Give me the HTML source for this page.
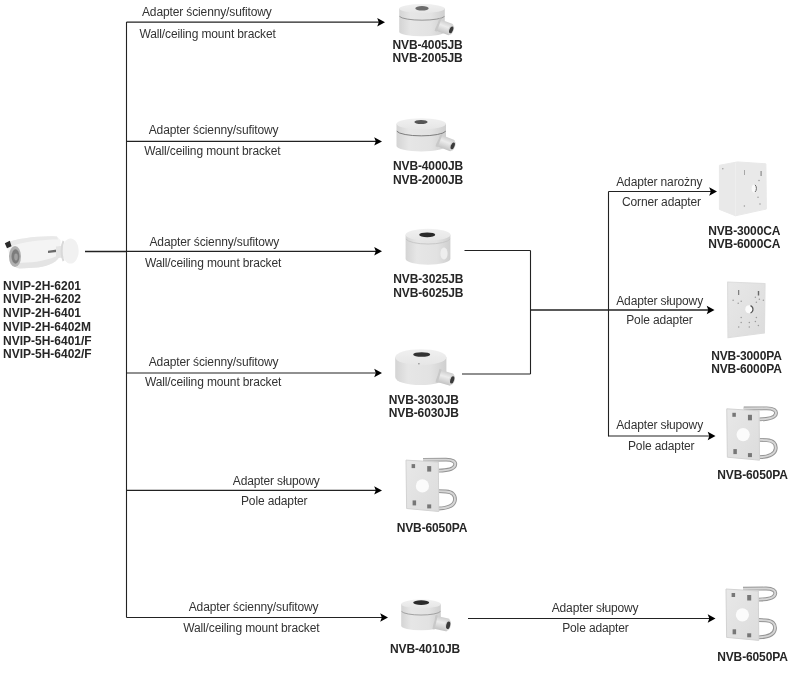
<!DOCTYPE html>
<html><head><meta charset="utf-8"><style>
html,body{margin:0;padding:0;background:#fff;width:800px;height:674px;overflow:hidden;position:relative}
#wrap{position:absolute;left:0;top:0;width:800px;height:674px;filter:blur(0.45px)}
.t{position:absolute;font-family:"Liberation Sans",sans-serif;font-size:12px;line-height:14px;white-space:nowrap}
.r{color:#333;letter-spacing:-0.13px}
.b{color:#262626;font-weight:bold;letter-spacing:-0.13px}
.n{letter-spacing:0}
svg{position:absolute;left:0;top:0}
</style></head><body><div id="wrap">
<svg width="800" height="674" viewBox="0 0 800 674"><defs>
<linearGradient id="side" x1="0" x2="1" y1="0" y2="0">
 <stop offset="0" stop-color="#d4d4d4"/><stop offset="0.25" stop-color="#e6e6e6"/>
 <stop offset="0.7" stop-color="#e2e2e2"/><stop offset="1" stop-color="#cfcfcf"/></linearGradient>
<linearGradient id="topg" x1="0" x2="0" y1="0" y2="1">
 <stop offset="0" stop-color="#f0f0f0"/><stop offset="1" stop-color="#e6e6e6"/></linearGradient>
<linearGradient id="gl" x1="0" x2="0" y1="0" y2="1">
 <stop offset="0" stop-color="#cfcfcf"/><stop offset="0.4" stop-color="#ececec"/><stop offset="1" stop-color="#c4c4c4"/></linearGradient>
<linearGradient id="plate" x1="0" x2="1" y1="0" y2="1">
 <stop offset="0" stop-color="#e8e8e8"/><stop offset="1" stop-color="#dcdcdc"/></linearGradient>
</defs>
<line x1="126.5" y1="22" x2="126.5" y2="617.5" stroke="#222222" stroke-width="1.1"/><line x1="126.5" y1="22.2" x2="382" y2="22.2" stroke="#222222" stroke-width="1.2"/><path d="M385,22.2 L377.2,18.0 L378.8,22.2 L377.2,26.4 Z" fill="#000"/><line x1="126.5" y1="141.4" x2="379" y2="141.4" stroke="#222222" stroke-width="1.2"/><path d="M382,141.4 L374.2,137.20000000000002 L375.8,141.4 L374.2,145.6 Z" fill="#000"/><line x1="126.5" y1="251.3" x2="379" y2="251.3" stroke="#222222" stroke-width="1.2"/><path d="M382,251.3 L374.2,247.10000000000002 L375.8,251.3 L374.2,255.5 Z" fill="#000"/><line x1="126.5" y1="373" x2="379" y2="373" stroke="#222222" stroke-width="1.2"/><path d="M382,373 L374.2,368.8 L375.8,373 L374.2,377.2 Z" fill="#000"/><line x1="126.5" y1="490.4" x2="379" y2="490.4" stroke="#222222" stroke-width="1.2"/><path d="M382,490.4 L374.2,486.2 L375.8,490.4 L374.2,494.59999999999997 Z" fill="#000"/><line x1="126.5" y1="617.5" x2="385" y2="617.5" stroke="#222222" stroke-width="1.2"/><path d="M388,617.5 L380.2,613.3 L381.8,617.5 L380.2,621.7 Z" fill="#000"/><line x1="85" y1="251.5" x2="126.5" y2="251.5" stroke="#222222" stroke-width="1.6"/><line x1="464.5" y1="250.5" x2="530.5" y2="250.5" stroke="#222222" stroke-width="1.1"/><line x1="530.5" y1="250.5" x2="530.5" y2="374" stroke="#222222" stroke-width="1.1"/><line x1="462" y1="374" x2="530.5" y2="374" stroke="#222222" stroke-width="1.2"/><line x1="530.5" y1="310" x2="711" y2="310" stroke="#222222" stroke-width="1.3"/><path d="M714.5,310 L706.7,305.8 L708.3,310 L706.7,314.2 Z" fill="#000"/><line x1="608.5" y1="191.5" x2="608.5" y2="436.5" stroke="#222222" stroke-width="1.1"/><line x1="608.5" y1="191.5" x2="713" y2="191.5" stroke="#222222" stroke-width="1.1"/><path d="M717,191.5 L709.2,187.3 L710.8,191.5 L709.2,195.7 Z" fill="#000"/><line x1="608.5" y1="436" x2="712" y2="436" stroke="#222222" stroke-width="1.1"/><path d="M715.5,436 L707.7,431.8 L709.3,436 L707.7,440.2 Z" fill="#000"/><line x1="468" y1="618.5" x2="712" y2="618.5" stroke="#222222" stroke-width="1.1"/><path d="M715.5,618.5 L707.7,614.3 L709.3,618.5 L707.7,622.7 Z" fill="#000"/><g><path d="M399.2,8.6 L399.2,31.700000000000003 A22.80000000000001,4.5 0 0 0 444.8,31.700000000000003 L444.8,8.6 Z" fill="url(#side)"/><ellipse cx="422.0" cy="8.6" rx="22.80000000000001" ry="4.5" fill="url(#topg)"/><path d="M399.5,16.4 A22.80000000000001,4.5 0 0 0 444.5,16.4" fill="none" stroke="#8c8c8c" stroke-width="0.9"/><ellipse cx="422" cy="8.3" rx="6.7" ry="2.3" fill="#6c6c6c"/><g transform="translate(437,24.5) rotate(20.8)"><rect x="0" y="-6.0" width="15.508062419270823" height="12" rx="1.5" fill="url(#gl)"/><rect x="0" y="-6.8" width="2.2" height="13.6" fill="#c8c8c8"/><ellipse cx="15.008062419270823" cy="0" rx="2.64" ry="5.04" fill="#d6d6d6"/><ellipse cx="15.208062419270822" cy="0" rx="1.7999999999999998" ry="3.5999999999999996" fill="#3a3a3a"/></g></g><g><path d="M396.5,123.8 L396.5,145.9 A24.75,5.5 0 0 0 446,145.9 L446,123.8 Z" fill="url(#side)"/><ellipse cx="421.25" cy="123.8" rx="24.75" ry="5.5" fill="url(#topg)"/><path d="M396.8,131.2 A24.75,5.5 0 0 0 445.7,131.2" fill="none" stroke="#707070" stroke-width="0.9"/><ellipse cx="421" cy="122" rx="6.6" ry="2.1" fill="#555"/><g transform="translate(438,140) rotate(21.8)"><rect x="0" y="-6.0" width="16.15549442140351" height="12" rx="1.5" fill="url(#gl)"/><rect x="0" y="-6.8" width="2.2" height="13.6" fill="#c8c8c8"/><ellipse cx="15.65549442140351" cy="0" rx="2.64" ry="5.04" fill="#d6d6d6"/><ellipse cx="15.85549442140351" cy="0" rx="1.7999999999999998" ry="3.5999999999999996" fill="#3a3a3a"/></g></g><g><path d="M405.6,234.8 L405.6,258.8 A22.399999999999977,6 0 0 0 450.4,258.8 L450.4,234.8 Z" fill="url(#side)"/><ellipse cx="428.0" cy="234.8" rx="22.399999999999977" ry="6" fill="url(#topg)"/><path d="M405.90000000000003,239 A22.399999999999977,6 0 0 0 450.09999999999997,239" fill="none" stroke="#c4c4c4" stroke-width="0.9"/><ellipse cx="427.2" cy="234.8" rx="8" ry="2.4" fill="#2a2a2a"/><ellipse cx="444" cy="253.6" rx="3.6" ry="6" fill="#eeeeee"/></g><g><path d="M395.2,357.2 L395.2,377.1 A25.599999999999994,8 0 0 0 446.4,377.1 L446.4,357.2 Z" fill="url(#side)"/><ellipse cx="420.79999999999995" cy="357.2" rx="25.599999999999994" ry="8" fill="url(#topg)"/><ellipse cx="421.7" cy="354.5" rx="8.5" ry="2.3" fill="#333"/><g transform="translate(437.5,375.5) rotate(16.7)"><rect x="0" y="-6.25" width="15.660459763365825" height="12.5" rx="1.5" fill="url(#gl)"/><rect x="0" y="-7.05" width="2.2" height="14.1" fill="#c8c8c8"/><ellipse cx="15.160459763365825" cy="0" rx="2.75" ry="5.25" fill="#d6d6d6"/><ellipse cx="15.360459763365824" cy="0" rx="1.875" ry="3.75" fill="#3a3a3a"/></g></g><circle cx="418.9" cy="363.7" r="0.8" fill="#888"/><g><path d="M401.2,604.0 L401.2,625.8000000000001 A19.80000000000001,4.4 0 0 0 440.8,625.8000000000001 L440.8,604.0 Z" fill="url(#side)"/><ellipse cx="421.0" cy="604.0" rx="19.80000000000001" ry="4.4" fill="url(#topg)"/><path d="M401.5,611.4 A19.80000000000001,4.4 0 0 0 440.5,611.4" fill="none" stroke="#9a9a9a" stroke-width="0.9"/><ellipse cx="421.2" cy="602.6" rx="8" ry="2.3" fill="#2a2a2a"/><g transform="translate(434,622) rotate(12.8)"><rect x="0" y="-6.5" width="14.870776711389345" height="13" rx="1.5" fill="url(#gl)"/><rect x="0" y="-7.3" width="2.2" height="14.6" fill="#c8c8c8"/><ellipse cx="14.370776711389345" cy="0" rx="2.86" ry="5.46" fill="#d6d6d6"/><ellipse cx="14.570776711389344" cy="0" rx="1.95" ry="3.9" fill="#3a3a3a"/></g></g><g transform="translate(406,460.1)"><path d="M17,-0.3 L40,-0.5 C47,-0.5 49.8,1.8 49.2,4.8 C48.6,8.2 44,10.4 32.5,10.6" fill="none" stroke="#959595" stroke-width="3.8"/><path d="M17,-0.3 L40,-0.5 C47,-0.5 49.8,1.8 49.2,4.8 C48.6,8.2 44,10.4 32.5,10.6" fill="none" stroke="#d6d6d6" stroke-width="1.9"/><path d="M32.5,31 L40,31.4 C46.5,31.8 49.3,35 49,39.5 C48.6,44.5 43,48 32.5,48.4" fill="none" stroke="#959595" stroke-width="3.8"/><path d="M32.5,31 L40,31.4 C46.5,31.8 49.3,35 49,39.5 C48.6,44.5 43,48 32.5,48.4" fill="none" stroke="#d6d6d6" stroke-width="1.9"/><path d="M0,0 L32.3,2 L32.8,51.4 L0.6,48.4 Z" fill="url(#plate)" stroke="#d2d2d2" stroke-width="1" stroke-linejoin="round"/><circle cx="16.4" cy="25.8" r="6.6" fill="#fbfbfb"/><rect x="5.6" y="4" width="3.5" height="4" fill="#777"/><rect x="21.2" y="6" width="4" height="5.5" fill="#777"/><rect x="6.6" y="40.3" width="3.5" height="5" fill="#777"/><rect x="21.2" y="44.3" width="4" height="4" fill="#777"/></g><g transform="translate(726.75,408.8)"><path d="M17,-0.3 L40,-0.5 C47,-0.5 49.8,1.8 49.2,4.8 C48.6,8.2 44,10.4 32.5,10.6" fill="none" stroke="#959595" stroke-width="3.8"/><path d="M17,-0.3 L40,-0.5 C47,-0.5 49.8,1.8 49.2,4.8 C48.6,8.2 44,10.4 32.5,10.6" fill="none" stroke="#d6d6d6" stroke-width="1.9"/><path d="M32.5,31 L40,31.4 C46.5,31.8 49.3,35 49,39.5 C48.6,44.5 43,48 32.5,48.4" fill="none" stroke="#959595" stroke-width="3.8"/><path d="M32.5,31 L40,31.4 C46.5,31.8 49.3,35 49,39.5 C48.6,44.5 43,48 32.5,48.4" fill="none" stroke="#d6d6d6" stroke-width="1.9"/><path d="M0,0 L32.3,2 L32.8,51.4 L0.6,48.4 Z" fill="url(#plate)" stroke="#d2d2d2" stroke-width="1" stroke-linejoin="round"/><circle cx="16.4" cy="25.8" r="6.6" fill="#fbfbfb"/><rect x="5.6" y="4" width="3.5" height="4" fill="#777"/><rect x="21.2" y="6" width="4" height="5.5" fill="#777"/><rect x="6.6" y="40.3" width="3.5" height="5" fill="#777"/><rect x="21.2" y="44.3" width="4" height="4" fill="#777"/></g><g transform="translate(726,589)"><path d="M17,-0.3 L40,-0.5 C47,-0.5 49.8,1.8 49.2,4.8 C48.6,8.2 44,10.4 32.5,10.6" fill="none" stroke="#959595" stroke-width="3.8"/><path d="M17,-0.3 L40,-0.5 C47,-0.5 49.8,1.8 49.2,4.8 C48.6,8.2 44,10.4 32.5,10.6" fill="none" stroke="#d6d6d6" stroke-width="1.9"/><path d="M32.5,31 L40,31.4 C46.5,31.8 49.3,35 49,39.5 C48.6,44.5 43,48 32.5,48.4" fill="none" stroke="#959595" stroke-width="3.8"/><path d="M32.5,31 L40,31.4 C46.5,31.8 49.3,35 49,39.5 C48.6,44.5 43,48 32.5,48.4" fill="none" stroke="#d6d6d6" stroke-width="1.9"/><path d="M0,0 L32.3,2 L32.8,51.4 L0.6,48.4 Z" fill="url(#plate)" stroke="#d2d2d2" stroke-width="1" stroke-linejoin="round"/><circle cx="16.4" cy="25.8" r="6.6" fill="#fbfbfb"/><rect x="5.6" y="4" width="3.5" height="4" fill="#777"/><rect x="21.2" y="6" width="4" height="5.5" fill="#777"/><rect x="6.6" y="40.3" width="3.5" height="5" fill="#777"/><rect x="21.2" y="44.3" width="4" height="4" fill="#777"/></g><path d="M727.6,282 L765,283.6 L764.4,333 L728,337.6 Z" fill="url(#plate)" stroke="#dedede" stroke-width="1.2" stroke-linejoin="round"/><circle cx="749.3" cy="309.3" r="4" fill="#fcfcfc"/><path d="M750.5,305.6 A4,4 0 0 1 750.5,313" fill="none" stroke="#555" stroke-width="1.2"/><rect x="738.2" y="290" width="1" height="5" fill="#666"/><rect x="757.8" y="291" width="1.4" height="4.5" fill="#666"/><path d="M719.4,165.3 L737.5,161.9 L765.9,163.8 L766.4,209 L735.5,215.8 L719.4,209.4 Z" fill="#e9e9e9" stroke="#e9e9e9" stroke-width="1" stroke-linejoin="round"/><path d="M735.5,163 L735.5,215" stroke="#eeeeee" stroke-width="1"/><ellipse cx="754.2" cy="188.4" rx="2.5" ry="4" fill="#fafafa"/><path d="M755,184.8 A2.5,4 0 0 1 755,192" fill="none" stroke="#666" stroke-width="1"/><circle cx="733.1" cy="300.2" r="0.75" fill="#9a9a9a"/><circle cx="738.2" cy="303.3" r="0.75" fill="#9a9a9a"/><circle cx="755.4" cy="297.2" r="0.75" fill="#9a9a9a"/><circle cx="763.4" cy="300.2" r="0.75" fill="#9a9a9a"/><circle cx="759.4" cy="299.2" r="0.75" fill="#9a9a9a"/><circle cx="756.4" cy="302.3" r="0.75" fill="#9a9a9a"/><circle cx="741.2" cy="301.3" r="0.75" fill="#9a9a9a"/><circle cx="741.2" cy="317.4" r="0.75" fill="#9a9a9a"/><circle cx="756.4" cy="317.4" r="0.75" fill="#9a9a9a"/><circle cx="755.4" cy="321.5" r="0.75" fill="#9a9a9a"/><circle cx="758.4" cy="325.5" r="0.75" fill="#9a9a9a"/><circle cx="738.7" cy="327" r="0.75" fill="#9a9a9a"/><circle cx="749.3" cy="327" r="0.75" fill="#9a9a9a"/><circle cx="741.2" cy="322.5" r="0.75" fill="#9a9a9a"/><circle cx="749.3" cy="322.5" r="0.75" fill="#9a9a9a"/><circle cx="759" cy="180.5" r="0.75" fill="#9a9a9a"/><circle cx="758" cy="197.2" r="0.75" fill="#9a9a9a"/><circle cx="760" cy="204" r="0.75" fill="#9a9a9a"/><circle cx="744.4" cy="206" r="0.75" fill="#9a9a9a"/><circle cx="722.8" cy="168.7" r="0.75" fill="#9a9a9a"/><rect x="744" y="170" width="0.9" height="5" fill="#a0a0a0"/><rect x="760.5" y="171" width="1.2" height="5" fill="#8a8a8a"/>
<path d="M6,243 C16,238.5 40,235.5 57,236.5 L60.5,240 L60.5,255 C58,262 50,265.5 38,267.5 L20,268.5 C13,268 10,262 9,254 Z" fill="#f4f4f4"/>
<path d="M12,262 C24,264 46,262 60,254.5 C58,262 50,265.5 38,267.5 L20,268.5 C16,268.2 13,266 12,262 Z" fill="#e4e4e4"/>
<path d="M6,243 C16,238.5 40,235.5 57,236.5 L58,239.5 C42,239.5 22,242 10,246.5 Z" fill="#e9e9e9"/>
<ellipse cx="15" cy="256.5" rx="6" ry="10.5" fill="#b0b0b0"/>
<ellipse cx="15.5" cy="256.5" rx="4" ry="7.2" fill="#7c7c7c"/>
<ellipse cx="16" cy="257" rx="1.8" ry="3.4" fill="#a0a0a0"/>
<path d="M4.8,243.2 L9.8,240.8 L11.5,246.2 L7,248.2 Z" fill="#2a2a2a"/>
<path d="M48,250.8 L57,249.6 L57,252 L48,253 Z" fill="#6a6a6a"/>
<path d="M56,246.5 L65,245.5 L65,257.5 L56,258 Z" fill="#e4e4e4"/>
<ellipse cx="70.5" cy="251" rx="8.2" ry="12.6" fill="#f1f1f1"/>
<path d="M63.5,241 C61,246 61,256 63.5,261" stroke="#d9d9d9" stroke-width="2" fill="none"/>

</svg>
<div class="t r" style="left:142px;top:5px">Adapter ścienny/sufitowy</div><div class="t r" style="left:139.5px;top:27px">Wall/ceiling mount bracket</div><div class="t r" style="left:148.75px;top:123px">Adapter ścienny/sufitowy</div><div class="t r" style="left:144.25px;top:144px">Wall/ceiling mount bracket</div><div class="t r" style="left:149.5px;top:235px">Adapter ścienny/sufitowy</div><div class="t r" style="left:145px;top:256px">Wall/ceiling mount bracket</div><div class="t r" style="left:148.75px;top:355px">Adapter ścienny/sufitowy</div><div class="t r" style="left:145px;top:375px">Wall/ceiling mount bracket</div><div class="t r" style="left:232.8px;top:474px">Adapter słupowy</div><div class="t r" style="left:241px;top:494px">Pole adapter</div><div class="t r" style="left:188.75px;top:600px">Adapter ścienny/sufitowy</div><div class="t r" style="left:183.25px;top:621px">Wall/ceiling mount bracket</div><div class="t r" style="left:551.7px;top:601px">Adapter słupowy</div><div class="t r" style="left:562.2px;top:621px">Pole adapter</div><div class="t r" style="left:616.25px;top:175px">Adapter narożny</div><div class="t r" style="left:622px;top:195px">Corner adapter</div><div class="t r" style="left:616.25px;top:294px">Adapter słupowy</div><div class="t r" style="left:626.25px;top:313px">Pole adapter</div><div class="t r" style="left:616.25px;top:418px">Adapter słupowy</div><div class="t r" style="left:628px;top:439px">Pole adapter</div><div class="t b" style="left:392.5px;top:37.5px">NVB-4005JB</div><div class="t b" style="left:392.5px;top:51px">NVB-2005JB</div><div class="t b" style="left:393px;top:159px">NVB-4000JB</div><div class="t b" style="left:393px;top:173px">NVB-2000JB</div><div class="t b" style="left:393.3px;top:272px">NVB-3025JB</div><div class="t b" style="left:393.3px;top:286px">NVB-6025JB</div><div class="t b" style="left:388.8px;top:393px">NVB-3030JB</div><div class="t b" style="left:388.8px;top:406px">NVB-6030JB</div><div class="t b" style="left:396.7px;top:521px">NVB-6050PA</div><div class="t b" style="left:390px;top:642px">NVB-4010JB</div><div class="t b" style="left:708.2px;top:223.5px">NVB-3000CA</div><div class="t b" style="left:708.2px;top:237px">NVB-6000CA</div><div class="t b" style="left:711.2px;top:349px">NVB-3000PA</div><div class="t b" style="left:711.2px;top:362px">NVB-6000PA</div><div class="t b" style="left:717.25px;top:468px">NVB-6050PA</div><div class="t b" style="left:717.2px;top:650px">NVB-6050PA</div><div class="t b n" style="left:3.0px;top:278.5px">NVIP-2H-6201</div><div class="t b n" style="left:3.0px;top:292.25px">NVIP-2H-6202</div><div class="t b n" style="left:3.0px;top:306.0px">NVIP-2H-6401</div><div class="t b n" style="left:3.0px;top:319.75px">NVIP-2H-6402M</div><div class="t b n" style="left:3.0px;top:333.5px">NVIP-5H-6401/F</div><div class="t b n" style="left:3.0px;top:347.25px">NVIP-5H-6402/F</div>
</div></body></html>
